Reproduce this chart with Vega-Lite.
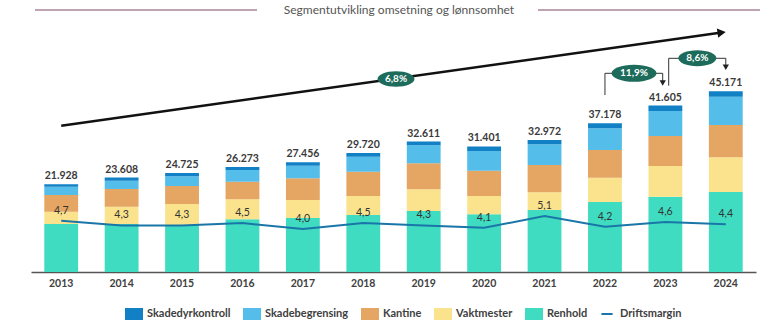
{
  "$schema": "https://vega.github.io/schema/vega-lite/v6.json",
  "width": 725,
  "height": 242,
  "autosize": "none",
  "padding": {"left": 31, "top": 30, "right": 14, "bottom": 50},
  "background": "white",
  "config": {
    "locale": {"number": {"decimal": ",", "thousands": ".", "grouping": [3], "currency": ["", " kr"]}},
    "view": {"stroke": null},
    "font": "Lato"
  },
  "data": {"values": [{}]},
  "datasets": {
    "segments": [
      {"year": "2013", "segment": "Renhold", "stackOrder": 1, "value": 12000},
      {"year": "2013", "segment": "Vaktmester", "stackOrder": 2, "value": 3075},
      {"year": "2013", "segment": "Kantine", "stackOrder": 3, "value": 4175},
      {"year": "2013", "segment": "Skadebegrensing", "stackOrder": 4, "value": 2075},
      {"year": "2013", "segment": "Skadedyrkontroll", "stackOrder": 5, "value": 603},
      {"year": "2014", "segment": "Renhold", "stackOrder": 1, "value": 12000},
      {"year": "2014", "segment": "Vaktmester", "stackOrder": 2, "value": 4325},
      {"year": "2014", "segment": "Kantine", "stackOrder": 3, "value": 4425},
      {"year": "2014", "segment": "Skadebegrensing", "stackOrder": 4, "value": 2075},
      {"year": "2014", "segment": "Skadedyrkontroll", "stackOrder": 5, "value": 783},
      {"year": "2015", "segment": "Renhold", "stackOrder": 1, "value": 11750},
      {"year": "2015", "segment": "Vaktmester", "stackOrder": 2, "value": 5250},
      {"year": "2015", "segment": "Kantine", "stackOrder": 3, "value": 4500},
      {"year": "2015", "segment": "Skadebegrensing", "stackOrder": 4, "value": 2425},
      {"year": "2015", "segment": "Skadedyrkontroll", "stackOrder": 5, "value": 800},
      {"year": "2016", "segment": "Renhold", "stackOrder": 1, "value": 13175},
      {"year": "2016", "segment": "Vaktmester", "stackOrder": 2, "value": 5000},
      {"year": "2016", "segment": "Kantine", "stackOrder": 3, "value": 4400},
      {"year": "2016", "segment": "Skadebegrensing", "stackOrder": 4, "value": 2925},
      {"year": "2016", "segment": "Skadedyrkontroll", "stackOrder": 5, "value": 773},
      {"year": "2017", "segment": "Renhold", "stackOrder": 1, "value": 13500},
      {"year": "2017", "segment": "Vaktmester", "stackOrder": 2, "value": 4500},
      {"year": "2017", "segment": "Kantine", "stackOrder": 3, "value": 5425},
      {"year": "2017", "segment": "Skadebegrensing", "stackOrder": 4, "value": 3150},
      {"year": "2017", "segment": "Skadedyrkontroll", "stackOrder": 5, "value": 881},
      {"year": "2018", "segment": "Renhold", "stackOrder": 1, "value": 14250},
      {"year": "2018", "segment": "Vaktmester", "stackOrder": 2, "value": 4750},
      {"year": "2018", "segment": "Kantine", "stackOrder": 3, "value": 6075},
      {"year": "2018", "segment": "Skadebegrensing", "stackOrder": 4, "value": 3750},
      {"year": "2018", "segment": "Skadedyrkontroll", "stackOrder": 5, "value": 895},
      {"year": "2019", "segment": "Renhold", "stackOrder": 1, "value": 15250},
      {"year": "2019", "segment": "Vaktmester", "stackOrder": 2, "value": 5425},
      {"year": "2019", "segment": "Kantine", "stackOrder": 3, "value": 6500},
      {"year": "2019", "segment": "Skadebegrensing", "stackOrder": 4, "value": 4500},
      {"year": "2019", "segment": "Skadedyrkontroll", "stackOrder": 5, "value": 936},
      {"year": "2020", "segment": "Renhold", "stackOrder": 1, "value": 14425},
      {"year": "2020", "segment": "Vaktmester", "stackOrder": 2, "value": 4575},
      {"year": "2020", "segment": "Kantine", "stackOrder": 3, "value": 6325},
      {"year": "2020", "segment": "Skadebegrensing", "stackOrder": 4, "value": 4925},
      {"year": "2020", "segment": "Skadedyrkontroll", "stackOrder": 5, "value": 1151},
      {"year": "2021", "segment": "Renhold", "stackOrder": 1, "value": 15500},
      {"year": "2021", "segment": "Vaktmester", "stackOrder": 2, "value": 4425},
      {"year": "2021", "segment": "Kantine", "stackOrder": 3, "value": 6825},
      {"year": "2021", "segment": "Skadebegrensing", "stackOrder": 4, "value": 5175},
      {"year": "2021", "segment": "Skadedyrkontroll", "stackOrder": 5, "value": 1047},
      {"year": "2022", "segment": "Renhold", "stackOrder": 1, "value": 17500},
      {"year": "2022", "segment": "Vaktmester", "stackOrder": 2, "value": 6075},
      {"year": "2022", "segment": "Kantine", "stackOrder": 3, "value": 6925},
      {"year": "2022", "segment": "Skadebegrensing", "stackOrder": 4, "value": 5425},
      {"year": "2022", "segment": "Skadedyrkontroll", "stackOrder": 5, "value": 1253},
      {"year": "2023", "segment": "Renhold", "stackOrder": 1, "value": 18825},
      {"year": "2023", "segment": "Vaktmester", "stackOrder": 2, "value": 7675},
      {"year": "2023", "segment": "Kantine", "stackOrder": 3, "value": 7500},
      {"year": "2023", "segment": "Skadebegrensing", "stackOrder": 4, "value": 6250},
      {"year": "2023", "segment": "Skadedyrkontroll", "stackOrder": 5, "value": 1355},
      {"year": "2024", "segment": "Renhold", "stackOrder": 1, "value": 20000},
      {"year": "2024", "segment": "Vaktmester", "stackOrder": 2, "value": 8675},
      {"year": "2024", "segment": "Kantine", "stackOrder": 3, "value": 8075},
      {"year": "2024", "segment": "Skadebegrensing", "stackOrder": 4, "value": 7075},
      {"year": "2024", "segment": "Skadedyrkontroll", "stackOrder": 5, "value": 1346}
    ],
    "years": [
      {"year": "2013", "total": 21928, "margin": 4.7},
      {"year": "2014", "total": 23608, "margin": 4.3},
      {"year": "2015", "total": 24725, "margin": 4.3},
      {"year": "2016", "total": 26273, "margin": 4.5},
      {"year": "2017", "total": 27456, "margin": 4.0},
      {"year": "2018", "total": 29720, "margin": 4.5},
      {"year": "2019", "total": 32611, "margin": 4.3},
      {"year": "2020", "total": 31401, "margin": 4.1},
      {"year": "2021", "total": 32972, "margin": 5.1},
      {"year": "2022", "total": 37178, "margin": 4.2},
      {"year": "2023", "total": 41605, "margin": 4.6},
      {"year": "2024", "total": 45171, "margin": 4.4}
    ]
  },
  "layer": [
    {
      "layer": [
        {
          "data": {"name": "segments"},
          "mark": {"type": "bar"},
          "encoding": {
            "x": {
              "field": "year", "type": "nominal",
              "scale": {"paddingInner": 0.44, "paddingOuter": 0.22},
              "axis": {"title": null, "domainColor": "#555555", "domainWidth": 1.5, "ticks": false, "grid": false, "labelAngle": 0, "labelFont": "Lato", "labelFontSize": 10.5, "labelFontWeight": "bold", "labelColor": "#404040", "labelPadding": 6}
            },
            "y": {"field": "value", "type": "quantitative", "stack": "zero", "scale": {"domain": [0, 60500], "nice": false, "zero": true}, "axis": null},
            "color": {
              "field": "segment", "type": "nominal",
              "scale": {
                "domain": ["Skadedyrkontroll", "Skadebegrensing", "Kantine", "Vaktmester", "Renhold", "Driftsmargin"],
                "range": ["#1180c4", "#55bde9", "#e5a563", "#fbe38d", "#3fdcc1", "#1a76a8"]
              },
              "legend": {
                "title": null, "orient": "none", "legendX": 94, "legendY": 275, "direction": "horizontal",
                "labelFont": "Lato", "labelFontSize": 11, "labelFontWeight": "bold", "labelColor": "#404040",
                "symbolSize": 256, "labelOffset": 4, "columnPadding": 9,
                "encode": {
                  "symbols": {
                    "update": {
                      "shape": {"signal": "datum.value === 'Driftsmargin' ? 'M-0.7,-0.62M-0.7,0H0.7M0.7,0.62' : 'M-1,-0.62H1V0.62H-1Z'"},
                      "fill": {"signal": "datum.value === 'Driftsmargin' ? 'transparent' : scale('color', datum.value)"},
                      "stroke": {"signal": "datum.value === 'Driftsmargin' ? '#1a76a8' : 'transparent'"},
                      "strokeWidth": {"value": 2},
                      "opacity": {"value": 1},
                      "fillOpacity": {"value": 1}
                    }
                  }
                }
              }
            },
            "order": {"field": "stackOrder", "type": "quantitative"}
          }
        },
        {
          "data": {"name": "years"},
          "mark": {"type": "text", "dy": -8, "baseline": "middle", "font": "Lato", "fontSize": 10.5, "fontWeight": "bold", "color": "#3a3a3a"},
          "encoding": {
            "x": {"field": "year", "type": "nominal"},
            "y": {"field": "total", "type": "quantitative", "axis": null},
            "text": {"field": "total", "type": "quantitative", "format": ",.0f"}
          }
        },
        {
          "mark": {"type": "text", "text": "Segmentutvikling omsetning og lønnsomhet", "baseline": "middle", "align": "center", "font": "Lato", "fontSize": 12, "color": "#555555"},
          "encoding": {
            "x": {"datum": "2018", "type": "nominal", "bandPosition": 1.555},
            "y": {"datum": 65500, "type": "quantitative", "axis": null}
          }
        },
        {
          "mark": {"type": "rule", "color": "#a9849a", "strokeWidth": 1.5},
          "encoding": {
            "x": {"datum": "2013", "type": "nominal", "bandPosition": -0.275},
            "x2": {"datum": "2016", "bandPosition": 0.93},
            "y": {"datum": 65500, "type": "quantitative", "axis": null}
          }
        },
        {
          "mark": {"type": "rule", "color": "#a9849a", "strokeWidth": 1.5},
          "encoding": {
            "x": {"datum": "2021", "type": "nominal", "bandPosition": 0.307},
            "x2": {"datum": "2024", "bandPosition": 1.511},
            "y": {"datum": 65500, "type": "quantitative", "axis": null}
          }
        },
        {
          "mark": {"type": "rule", "color": "#111111", "strokeWidth": 2.5},
          "encoding": {
            "x": {"datum": "2013", "type": "nominal", "bandPosition": 0.5},
            "x2": {"datum": "2024", "bandPosition": 0.376},
            "y": {"datum": 36575, "type": "quantitative", "axis": null},
            "y2": {"datum": 59850}
          }
        },
        {
          "mark": {"type": "point", "shape": "triangle-right", "filled": true, "size": 90, "angle": -8, "color": "#111111", "opacity": 1},
          "encoding": {
            "x": {"datum": "2024", "type": "nominal", "bandPosition": 0.376},
            "y": {"datum": 59850, "type": "quantitative", "axis": null}
          }
        },
        {
          "mark": {"type": "rule", "color": "#333333", "strokeWidth": 1},
          "encoding": {
            "x": {"datum": "2022", "type": "nominal", "bandPosition": 0.5},
            "y": {"datum": 44250, "type": "quantitative", "axis": null},
            "y2": {"datum": 49675}
          }
        },
        {
          "mark": {"type": "rule", "color": "#333333", "strokeWidth": 1},
          "encoding": {
            "x": {"datum": "2022", "type": "nominal", "bandPosition": 0.5},
            "x2": {"datum": "2023", "bandPosition": 0.421},
            "y": {"datum": 49675, "type": "quantitative", "axis": null}
          }
        },
        {
          "mark": {"type": "rule", "color": "#333333", "strokeWidth": 1},
          "encoding": {
            "x": {"datum": "2023", "type": "nominal", "bandPosition": 0.421},
            "y": {"datum": 49675, "type": "quantitative", "axis": null},
            "y2": {"datum": 47250}
          }
        },
        {
          "mark": {"type": "point", "shape": "triangle-down", "filled": true, "size": 40, "color": "#222222", "opacity": 1},
          "encoding": {
            "x": {"datum": "2023", "type": "nominal", "bandPosition": 0.421},
            "y": {"datum": 47250, "type": "quantitative", "axis": null}
          }
        },
        {
          "mark": {"type": "rule", "color": "#333333", "strokeWidth": 1},
          "encoding": {
            "x": {"datum": "2023", "type": "nominal", "bandPosition": 0.598},
            "y": {"datum": 46575, "type": "quantitative", "axis": null},
            "y2": {"datum": 53425}
          }
        },
        {
          "mark": {"type": "rule", "color": "#333333", "strokeWidth": 1},
          "encoding": {
            "x": {"datum": "2023", "type": "nominal", "bandPosition": 0.598},
            "x2": {"datum": "2024", "bandPosition": 0.5},
            "y": {"datum": 53425, "type": "quantitative", "axis": null}
          }
        },
        {
          "mark": {"type": "rule", "color": "#333333", "strokeWidth": 1},
          "encoding": {
            "x": {"datum": "2024", "type": "nominal", "bandPosition": 0.5},
            "y": {"datum": 53425, "type": "quantitative", "axis": null},
            "y2": {"datum": 51175}
          }
        },
        {
          "mark": {"type": "point", "shape": "triangle-down", "filled": true, "size": 40, "color": "#222222", "opacity": 1},
          "encoding": {
            "x": {"datum": "2024", "type": "nominal", "bandPosition": 0.5},
            "y": {"datum": 51175, "type": "quantitative", "axis": null}
          }
        },
        {
          "mark": {"type": "point", "shape": "M-1,0C-1,-0.232,-0.552,-0.42,0,-0.42C0.552,-0.42,1,-0.232,1,0C1,0.232,0.552,0.42,0,0.42C-0.552,0.42,-1,0.232,-1,0Z", "filled": true, "size": 1369, "color": "#1c6b5b", "opacity": 1},
          "encoding": {
            "x": {"datum": "2018", "type": "nominal", "bandPosition": 1.467},
            "y": {"datum": 48250, "type": "quantitative", "axis": null}
          }
        },
        {
          "mark": {"type": "text", "text": "6,8%", "baseline": "middle", "align": "center", "font": "Lato", "fontSize": 10, "fontWeight": "bold", "color": "white"},
          "encoding": {
            "x": {"datum": "2018", "type": "nominal", "bandPosition": 1.467},
            "y": {"datum": 48250, "type": "quantitative", "axis": null}
          }
        },
        {
          "mark": {"type": "point", "shape": "M-1,0C-1,-0.21,-0.552,-0.38,0,-0.38C0.552,-0.38,1,-0.21,1,0C1,0.21,0.552,0.38,0,0.38C-0.552,0.38,-1,0.21,-1,0Z", "filled": true, "size": 2025, "color": "#1c6b5b", "opacity": 1},
          "encoding": {
            "x": {"datum": "2022", "type": "nominal", "bandPosition": 1.359},
            "y": {"datum": 49675, "type": "quantitative", "axis": null}
          }
        },
        {
          "mark": {"type": "text", "text": "11,9%", "baseline": "middle", "align": "center", "font": "Lato", "fontSize": 10, "fontWeight": "bold", "color": "white"},
          "encoding": {
            "x": {"datum": "2022", "type": "nominal", "bandPosition": 1.359},
            "y": {"datum": 49675, "type": "quantitative", "axis": null}
          }
        },
        {
          "mark": {"type": "point", "shape": "M-1,0C-1,-0.232,-0.552,-0.42,0,-0.42C0.552,-0.42,1,-0.232,1,0C1,0.232,0.552,0.42,0,0.42C-0.552,0.42,-1,0.232,-1,0Z", "filled": true, "size": 1444, "color": "#1c6b5b", "opacity": 1},
          "encoding": {
            "x": {"datum": "2023", "type": "nominal", "bandPosition": 1.444},
            "y": {"datum": 53425, "type": "quantitative", "axis": null}
          }
        },
        {
          "mark": {"type": "text", "text": "8,6%", "baseline": "middle", "align": "center", "font": "Lato", "fontSize": 10, "fontWeight": "bold", "color": "white"},
          "encoding": {
            "x": {"datum": "2023", "type": "nominal", "bandPosition": 1.444},
            "y": {"datum": 53425, "type": "quantitative", "axis": null}
          }
        }
      ]
    },
    {
      "data": {"name": "years"},
      "layer": [
        {
          "mark": {"type": "line", "strokeWidth": 2},
          "encoding": {
            "x": {"field": "year", "type": "nominal"},
            "y": {"field": "margin", "type": "quantitative", "scale": {"domain": [0.356, 20.864], "nice": false, "zero": false}, "axis": null},
            "color": {"datum": "Driftsmargin", "type": "nominal"}
          }
        },
        {
          "mark": {"type": "text", "dy": -10, "baseline": "middle", "align": "center", "font": "Lato", "fontSize": 10.5, "color": "#333333"},
          "encoding": {
            "x": {"field": "year", "type": "nominal"},
            "y": {"field": "margin", "type": "quantitative", "axis": null},
            "text": {"field": "margin", "type": "quantitative", "format": ".1f"}
          }
        }
      ]
    }
  ],
  "resolve": {"scale": {"y": "independent"}}
}
